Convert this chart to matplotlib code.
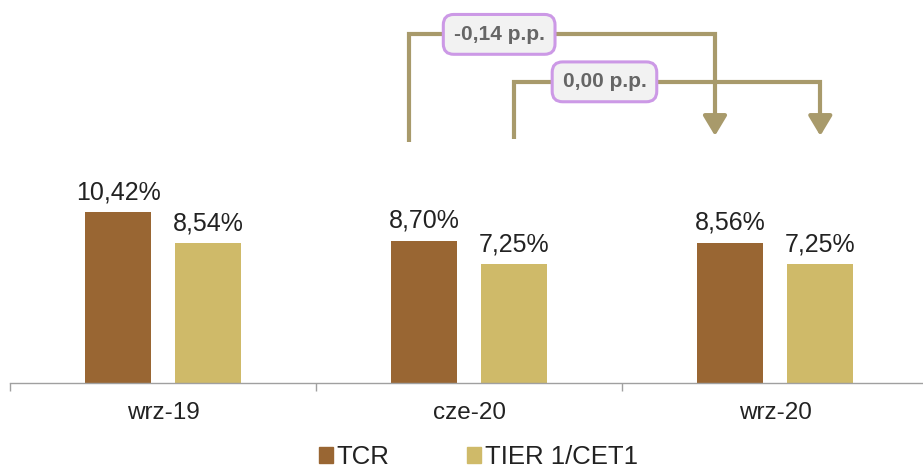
import matplotlib
matplotlib.use("Agg")
import matplotlib.pyplot as plt
from matplotlib.patches import Patch
import numpy as np

# ---- data ----
categories = ["wrz-19", "cze-20", "wrz-20"]
tcr = [10.42, 8.70, 8.56]
tier1 = [8.54, 7.25, 7.25]
series_names = ["TCR", "TIER 1/CET1"]
# change brackets: (from category, to category, series, label, height, start height)
changes = [
    (1, 2, "tcr", "-0,14 p.p.", 21.3, 14.7),
    (1, 2, "tier", "0,00 p.p.", 18.4, 14.9),
]

TCR_COLOR = "#996633"
TIER_COLOR = "#CFBA69"
BRACKET_COLOR = "#A89A6B"
TEXT_COLOR = "#222222"

plt.rcParams["font.family"] = ["Liberation Sans", "DejaVu Sans"]

fig = plt.figure(figsize=(9.23, 4.69), dpi=100)
ax = fig.add_axes([0.0108, 0.1834, 0.995, 0.8166])

x = np.arange(len(categories))
offset = 0.147
width = 0.216

b1 = ax.bar(x - offset, tcr, width, color=TCR_COLOR, zorder=2)
b2 = ax.bar(x + offset, tier1, width, color=TIER_COLOR, zorder=2)

for bars, vals in ((b1, tcr), (b2, tier1)):
    for rect, v in zip(bars, vals):
        ax.text(rect.get_x() + rect.get_width() / 2, v + 0.5,
                f"{v:.2f}%".replace(".", ","),
                ha="center", va="bottom", fontsize=18, color=TEXT_COLOR)

# ---- change brackets ----
for start, end, which, label, top, low in changes:
    if which == "tcr":
        xs, xe = start - offset - 0.05, end - offset - 0.05
    else:
        xs, xe = start + offset, end + offset
    ax.plot([xs, xs, xe, xe], [low, top, top, 16.2],
            color=BRACKET_COLOR, lw=3, solid_joinstyle="miter",
            solid_capstyle="butt", zorder=3)
    ax.annotate("", xy=(xe, 15.1), xytext=(xe, 16.4),
                arrowprops=dict(arrowstyle="-|>,head_length=0.5,head_width=0.3",
                                color=BRACKET_COLOR, lw=3, mutation_scale=24,
                                shrinkA=0, shrinkB=0), zorder=3)
    ax.text(xs + 0.295, top, label, ha="center", va="center",
            fontsize=15, fontweight="bold", color="#666666", zorder=4,
            bbox=dict(boxstyle="round,pad=0.5,rounding_size=0.5",
                      fc="#F2F2F2", ec="#CC99E6", lw=2.2))

# ---- axes styling ----
ax.set_xlim(-0.5, 2.5)
ax.set_ylim(0, 23.4)
ax.set_xticks(x)
ax.set_xticklabels(categories, fontsize=17.5, color=TEXT_COLOR)
ax.set_xticks(np.arange(-0.5, 2.6, 1.0), minor=True)
ax.tick_params(axis="x", which="major", length=0, pad=14)
ax.tick_params(axis="x", which="minor", length=6, width=1,
               color="#A0A0A0", direction="out")
ax.set_yticks([])
for side in ("top", "right", "left"):
    ax.spines[side].set_visible(False)
ax.spines["bottom"].set_color("#A0A0A0")
ax.spines["bottom"].set_linewidth(1)
ax.patch.set_alpha(0)

handles = [Patch(color=TCR_COLOR), Patch(color=TIER_COLOR)]
fig.legend(handles, series_names, loc="lower center",
           bbox_to_anchor=(0.518, -0.05), ncol=2, frameon=False,
           fontsize=18.5, handlelength=0.55, handleheight=0.55,
           handletextpad=0.15, columnspacing=3.0,
           labelcolor=TEXT_COLOR)

fig.savefig("out.png", dpi=100)
